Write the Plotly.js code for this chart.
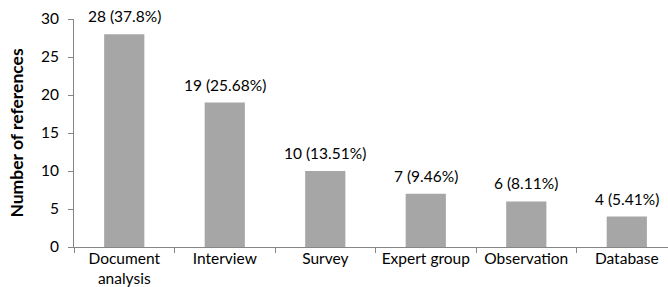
<!DOCTYPE html>
<html>
<head>
<meta charset="utf-8">
<script src="https://cdn.plot.ly/plotly-3.0.1.min.js"></script>
<style>html,body{margin:0;padding:0;background:#fff;}#chart{width:668px;height:287px;}</style>
</head>
<body>
<div id="chart"></div>
<script>
const categories = ["Document<br>analysis", "Interview", "Survey", "Expert group", "Observation", "Database"];
const counts = [28, 19, 10, 7, 6, 4];
const percentLabels = ["28 (37.8%)", "19 (25.68%)", "10 (13.51%)", "7 (9.46%)", "6 (8.11%)", "4 (5.41%)"];
const yTicks = [0, 5, 10, 15, 20, 25, 30];

const font = "Lato, 'Open Sans', sans-serif";
const axisColor = "#868686";

const trace = {
  type: "bar",
  x: categories,
  y: counts,
  width: 0.4,
  marker: {color: "#A6A6A6"},
  hoverinfo: "none"
};

const annotations = categories.map((c, i) => ({
  x: c, y: counts[i], xref: "x", yref: "y",
  text: percentLabels[i], showarrow: false,
  yanchor: "bottom", yshift: 7,
  font: {family: font, size: 15.5, color: "#000"}
}));

const layout = {
  width: 668, height: 287,
  margin: {l: 74, r: 0, t: 19, b: 40},
  paper_bgcolor: "#fff", plot_bgcolor: "#fff",
  showlegend: false,
  font: {family: font, size: 15, color: "#000"},
  xaxis: {
    type: "category",
    range: [-0.5, 5.41],
    showline: true, linecolor: axisColor, linewidth: 1,
    ticks: "outside", tickson: "boundaries", ticklen: 5, tickcolor: axisColor,
    ticklabelstandoff: -3,
    showgrid: false, zeroline: false,
    tickfont: {family: font, size: 15.5, color: "#000"}
  },
  yaxis: {
    range: [0, 30],
    tickvals: yTicks,
    showline: true, linecolor: axisColor, linewidth: 1,
    ticks: "outside", ticklen: 5, tickcolor: axisColor,
    ticklabelstandoff: 6,
    showgrid: false, zeroline: false,
    tickfont: {family: font, size: 15.5, color: "#000"},
    title: {text: "<b>Number of references</b>", font: {family: font, size: 17.5, color: "#000"}, standoff: 12}
  },
  annotations: annotations
};

Plotly.newPlot("chart", [trace], layout, {staticPlot: true, displayModeBar: false});
</script>
</body>
</html>
